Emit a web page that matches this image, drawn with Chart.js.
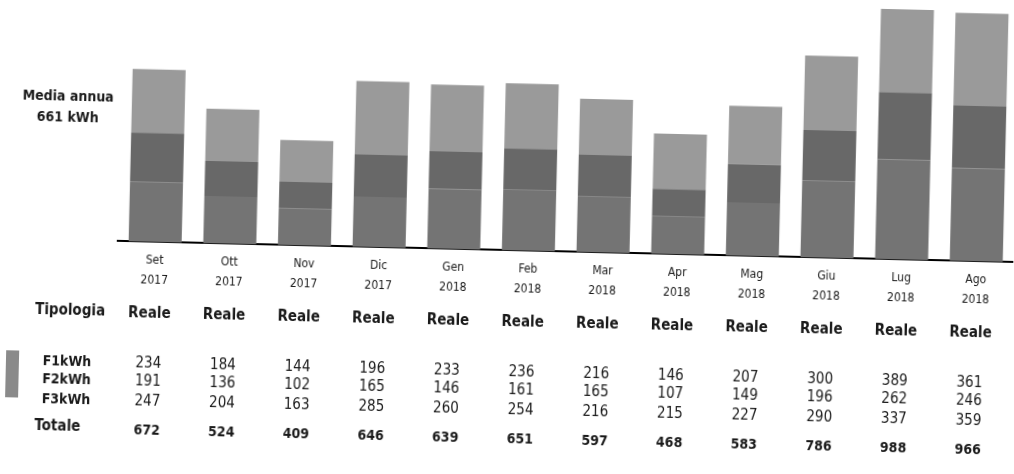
<!DOCTYPE html>
<html>
<head>
<meta charset="utf-8">
<script src="https://cdn.jsdelivr.net/npm/chart.js@4"></script>
<style>
  html, body { margin: 0; padding: 0; background: #fff; overflow: hidden; }
  #wrap { width: 1014px; height: 474px; position: relative; transform: rotate(1.35deg); transform-origin: 50% 50%; }
</style>
</head>
<body>
<div id="wrap"><canvas id="consumi"></canvas></div>
<script>
var mesi   = [['Set','2017'],['Ott','2017'],['Nov','2017'],['Dic','2017'],['Gen','2018'],['Feb','2018'],
              ['Mar','2018'],['Apr','2018'],['Mag','2018'],['Giu','2018'],['Lug','2018'],['Ago','2018']];
var tipologia = ['Reale','Reale','Reale','Reale','Reale','Reale','Reale','Reale','Reale','Reale','Reale','Reale'];
var f1     = [234, 184, 144, 196, 233, 236, 216, 146, 207, 300, 389, 361];
var f2     = [191, 136, 102, 165, 146, 161, 165, 107, 149, 196, 262, 246];
var f3     = [247, 204, 163, 285, 260, 254, 216, 215, 227, 290, 337, 359];
var totale = [672, 524, 409, 646, 639, 651, 597, 468, 583, 786, 988, 966];
var mediaAnnua = '661 kWh';

var FONT = '"DejaVu Sans Condensed", "Liberation Sans Narrow", "DejaVu Sans", sans-serif';
var ink = '#1a1a1a';

// ------------------------------------------------------- //
// tabella sotto il grafico
// ------------------------------------------------------ //
var tabella = {
    id: 'tabella',
    afterDraw: function (chart) {
        var ctx = chart.ctx, x = chart.scales.x;
        ctx.save();
        ctx.fillStyle = ink;
        ctx.textAlign = 'center';
        ctx.textBaseline = 'middle';

        ctx.font = 'bold 14px ' + FONT;
        ctx.fillText('Media annua', 65, 107);
        ctx.fillText(mediaAnnua, 65, 128);

        ctx.font = 'bold 15px ' + FONT;
        ctx.fillText('Tipologia', 72, 321);
        ctx.fillText('Totale', 62, 437);

        ctx.font = 'bold 14px ' + FONT;
        ctx.fillText('F1kWh', 70, 372);
        ctx.fillText('F2kWh', 70, 390);
        ctx.fillText('F3kWh', 70, 410);

        // legenda
        ctx.fillStyle = '#8a8a8a';
        ctx.fillRect(9, 362, 13, 47);
        ctx.fillStyle = ink;

        for (var i = 0; i < mesi.length; i++) {
            var cx = x.getPixelForValue(i) - 4;
            ctx.font = 'bold 15px ' + FONT;
            ctx.fillText(tipologia[i], cx, 322);
            ctx.font = '15px ' + FONT;
            ctx.fillText(f1[i], cx, 372);
            ctx.fillText(f2[i], cx, 390);
            ctx.fillText(f3[i], cx, 410);
            ctx.font = 'bold 14px ' + FONT;
            ctx.fillText(totale[i], cx, 439);
        }
        ctx.restore();
    }
};

var consumi = new Chart(document.getElementById('consumi'), {
    type: 'bar',
    data: {
        labels: mesi,
        datasets: [
            { label: 'F1kWh', data: f1, backgroundColor: '#747474' },
            { label: 'F2kWh', data: f2, backgroundColor: '#686868' },
            { label: 'F3kWh', data: f3, backgroundColor: '#9a9a9a' }
        ]
    },
    options: {
        responsive: true,
        maintainAspectRatio: false,
        animation: false,
        layout: { padding: { left: 118, right: 0, top: 0, bottom: 167 } },
        datasets: { bar: { barPercentage: 0.71, categoryPercentage: 1, clip: false } },
        plugins: { legend: { display: false }, tooltip: { enabled: false } },
        scales: {
            x: {
                stacked: true,
                grid: { display: false, drawTicks: false },
                border: { display: true, color: '#000', width: 2 },
                ticks: { padding: 8, color: ink, font: { family: FONT, size: 12, lineHeight: 1.7 } }
            },
            y: {
                stacked: true,
                display: false,
                min: 0,
                max: 975
            }
        }
    },
    plugins: [tabella]
});
</script>
</body>
</html>
